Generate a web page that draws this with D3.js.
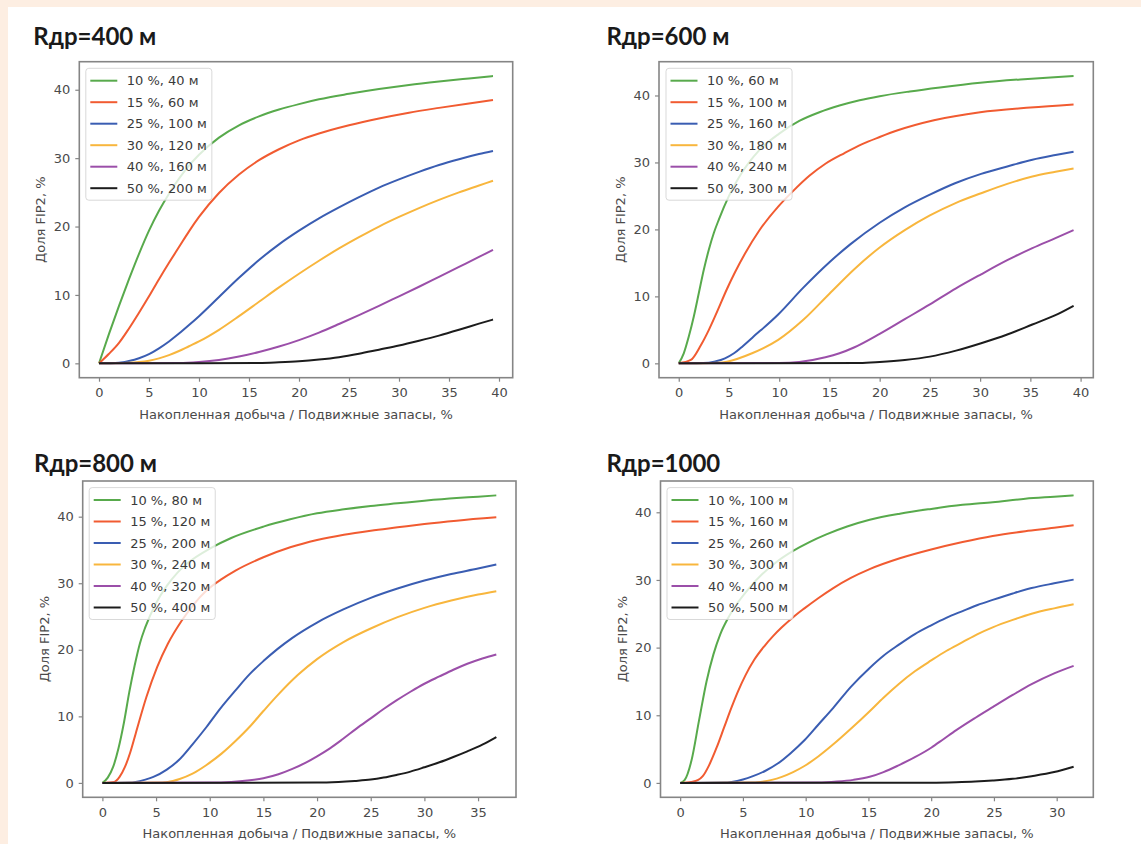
<!DOCTYPE html>
<html>
<head>
<meta charset="utf-8">
<script src="https://cdn.jsdelivr.net/npm/d3@7"></script>
<style>
  html, body { margin: 0; padding: 0; background: #fdeee2; }
  svg { display: block; }
</style>
</head>
<body>
<svg id="chart" width="1141" height="844"></svg>
<script>
// ---------------- DATA ----------------
const panelTitles = ["Rдр=400 м", "Rдр=600 м", "Rдр=800 м", "Rдр=1000"];
const xAxisLabel = "Накопленная добыча / Подвижные запасы, %";
const yAxisLabel = "Доля FIP2, %";

const legend400 = ["10 %, 40 м", "15 %, 60 м", "25 %, 100 м", "30 %, 120 м", "40 %, 160 м", "50 %, 200 м"];
const legend600 = ["10 %, 60 м", "15 %, 100 м", "25 %, 160 м", "30 %, 180 м", "40 %, 240 м", "50 %, 300 м"];
const legend800 = ["10 %, 80 м", "15 %, 120 м", "25 %, 200 м", "30 %, 240 м", "40 %, 320 м", "50 %, 400 м"];
const legend1000 = ["10 %, 100 м", "15 %, 160 м", "25 %, 260 м", "30 %, 300 м", "40 %, 400 м", "50 %, 500 м"];

const xTicks400 = [0, 5, 10, 15, 20, 25, 30, 35, 40];
const xTicks600 = [0, 5, 10, 15, 20, 25, 30, 35, 40];
const xTicks800 = [0, 5, 10, 15, 20, 25, 30, 35];
const xTicks1000 = [0, 5, 10, 15, 20, 25, 30];
const yTicks = [0, 10, 20, 30, 40];

// Rдр=400 м
const r400_s1 = [[0,0],[1,4.3],[2,8.4],[3,12.3],[4,16],[5,19.4],[6,22.3],[7,24.8],[8,27],[9,28.9],[10,30.5],[12,33],[14,34.8],[16,36.1],[18,37.1],[20,37.9],[22,38.6],[25,39.4],[28,40.1],[31,40.7],[34,41.2],[37,41.65],[39.4,42]];
const r400_s2 = [[0,0],[1,1.4],[2,3],[3,5.1],[4,7.4],[5,9.8],[6,12.3],[7,14.7],[8,17],[9,19.3],[10,21.4],[12,24.9],[14,27.6],[16,29.7],[18,31.3],[20,32.6],[22,33.6],[25,34.8],[28,35.8],[31,36.65],[34,37.35],[37,38],[39.4,38.5]];
const r400_s3 = [[0,0],[2,0.1],[3,0.35],[4,0.75],[5,1.35],[6,2.2],[7,3.2],[8,4.35],[9,5.6],[10,6.9],[12,9.7],[14,12.5],[16,15.1],[18,17.4],[20,19.4],[22,21.2],[24,22.8],[26,24.3],[28,25.7],[30,26.9],[32,28],[34,29],[36,29.85],[38,30.6],[39.4,31.05]];
const r400_s4 = [[0,0],[3,0.08],[4,0.18],[5,0.38],[6,0.72],[7,1.2],[8,1.8],[9,2.5],[10,3.2],[12,4.9],[14,6.9],[16,9],[18,11.1],[20,13.1],[22,15],[24,16.8],[26,18.45],[28,20],[30,21.4],[32,22.7],[34,23.9],[36,25],[38,26],[39.4,26.7]];
const r400_s5 = [[0,0],[8,0.05],[10,0.2],[12,0.5],[14,1],[16,1.65],[18,2.45],[20,3.4],[22,4.5],[24,5.75],[26,7.05],[28,8.4],[30,9.8],[32,11.2],[34,12.65],[36,14.1],[38,15.55],[39.4,16.6]];
const r400_s6 = [[0,0],[16,0.05],[18,0.15],[20,0.3],[22,0.55],[24,0.9],[26,1.4],[28,2],[30,2.6],[32,3.3],[34,4.05],[36,4.9],[38,5.8],[39.4,6.4]];

// Rдр=600 м
const r600_s1 = [[0,0],[0.5,1.5],[1,4],[1.5,7],[2,10.5],[2.5,14],[3,17],[3.5,19.5],[4,21.5],[5,25],[6,27.8],[7,30],[8,31.8],[10,34.3],[12,36.2],[14,37.5],[16,38.5],[18,39.3],[20,39.9],[23,40.6],[26,41.2],[30,41.9],[34,42.4],[37,42.7],[39.3,42.9]];
const r600_s2 = [[0,0],[1.2,0.5],[2.2,2.7],[3,5],[3.7,7.3],[4.8,11.1],[5.6,13.6],[6.6,16.4],[8,19.8],[9.9,23.4],[11.3,25.6],[13,28],[14.6,29.8],[16.5,31.4],[18.2,32.7],[20,33.8],[21.8,34.8],[25.4,36.3],[30,37.5],[35,38.2],[39.3,38.65]];
const r600_s3 = [[0,0],[3,0.1],[3.7,0.3],[4.6,0.75],[5.5,1.5],[6.4,2.6],[7.3,3.8],[9.9,7.3],[12.4,11.3],[15,15.1],[17.1,17.8],[20,21],[22.5,23.3],[25,25.2],[27.5,26.9],[30.1,28.3],[32.7,29.4],[35.2,30.4],[37.5,31.1],[39.3,31.6]];
const r600_s4 = [[0,0],[4,0.1],[4.8,0.25],[7.3,1.5],[9.9,3.5],[12.4,6.5],[15,10.4],[17.5,14.1],[20,17.3],[22.5,19.9],[25,22.1],[27.5,23.9],[30.1,25.4],[32.7,26.8],[35.2,27.9],[37.5,28.6],[39.3,29.1]];
const r600_s5 = [[0,0],[10,0.05],[12,0.2],[14.6,0.9],[16,1.5],[17.5,2.4],[20,4.4],[22.5,6.6],[25,8.8],[27.6,11.2],[30.1,13.3],[32.7,15.4],[35.2,17.2],[37.5,18.7],[39.3,19.9]];
const r600_s6 = [[0,0],[18,0.05],[20,0.2],[22.5,0.5],[25,1],[27.6,1.9],[30.1,3],[32.7,4.3],[35.2,5.8],[37.5,7.2],[39.3,8.6]];

// Rдр=800 м
const r800_s1 = [[0,0],[0.5,0.8],[1,2.4],[1.5,5.2],[2,9],[2.5,13.6],[3,17.6],[3.5,21],[4,23.4],[5,27],[6,29.6],[7,31.6],[8,33.1],[10,35.2],[12,36.8],[15,38.5],[17.5,39.6],[20,40.5],[22.5,41.1],[25,41.6],[27.5,42],[30,42.4],[33,42.8],[35,43],[36.7,43.2]];
const r800_s2 = [[0,0],[1.1,0.15],[1.6,0.9],[2.1,2.4],[2.6,4.6],[3.1,7.4],[4.1,12.9],[5.1,17.4],[6.1,20.9],[7.4,24.4],[8.5,26.8],[9.7,28.9],[11,30.5],[12.4,31.9],[15,33.9],[17.5,35.4],[20,36.5],[22.5,37.3],[25,37.9],[27.5,38.4],[30,38.9],[33,39.4],[36.7,39.9]];
const r800_s3 = [[0,0],[2.5,0.05],[3.1,0.15],[4,0.5],[4.75,0.9],[6,2],[7.1,3.4],[8.4,5.8],[9.7,8.4],[11,11.2],[12.4,13.9],[13.7,16.3],[15,18.3],[16.3,20.1],[17.7,21.8],[20,24.1],[22.5,26.1],[25,27.8],[27.5,29.2],[30,30.4],[32.5,31.4],[35,32.2],[36.7,32.8]];
const r800_s4 = [[0,0],[5,0.05],[6.1,0.15],[7.2,0.6],[8.4,1.4],[9.7,2.7],[11.1,4.4],[12.4,6.3],[13.7,8.4],[15,10.8],[16.4,13.3],[18.2,16.2],[20,18.6],[22.5,21.2],[25,23.2],[27.5,24.9],[30,26.3],[32.5,27.4],[35,28.3],[36.7,28.8]];
const r800_s5 = [[0,0],[10,0.05],[12,0.15],[13.5,0.35],[15,0.7],[16.4,1.3],[17.7,2.1],[19,3.1],[20,4],[21.2,5.2],[22.4,6.6],[23.7,8.2],[25,9.7],[26.2,11.1],[27.4,12.4],[28.7,13.7],[30,14.9],[31.4,16],[32.7,17],[34,17.9],[35.4,18.7],[36.7,19.3]];
const r800_s6 = [[0,0],[20,0.05],[22,0.15],[23.5,0.3],[25,0.5],[26.2,0.8],[27.4,1.2],[28.7,1.7],[30,2.35],[31.4,3.1],[32.7,3.9],[34,4.75],[35.4,5.75],[36.7,6.9]];

// Rдр=1000
const r1000_s1 = [[0,0],[0.35,0.4],[0.9,3.3],[1.5,9.2],[2.1,15],[2.65,19],[3.2,22],[3.8,24.3],[4.5,26.4],[5.5,28.8],[6.5,30.8],[7.7,32.7],[9,34.3],[10.3,35.6],[11.6,36.7],[13.3,37.9],[15.1,38.9],[17.5,39.8],[20,40.5],[22.5,41.1],[24.9,41.5],[27.5,42],[29.8,42.3],[31.35,42.5]];
const r1000_s2 = [[0,0],[0.9,0.15],[1.4,0.4],[1.8,1],[2.3,2.6],[2.9,5.2],[3.5,8.2],[4.1,11.2],[4.6,13.5],[5.2,15.9],[5.9,18.2],[6.7,20.2],[7.4,21.7],[8.1,23],[9,24.5],[9.9,25.8],[11,27.3],[12.2,28.8],[13.6,30.3],[15.1,31.6],[17.5,33.2],[20,34.5],[22.5,35.6],[24.9,36.5],[27.5,37.2],[29.8,37.7],[31.35,38.1]];
const r1000_s3 = [[0,0],[3.5,0.05],[4.1,0.15],[5,0.5],[5.8,1],[6.8,1.8],[7.8,2.9],[8.8,4.4],[9.9,6.3],[11,8.6],[12.2,11.1],[13.6,14.2],[15.1,17],[16.2,18.8],[17.4,20.4],[18.7,22],[20,23.3],[21.2,24.4],[22.5,25.4],[23.7,26.3],[24.9,27.05],[26.5,28],[28,28.8],[29.8,29.5],[31.35,30.05]];
const r1000_s4 = [[0,0],[5.5,0.05],[6.4,0.15],[7.3,0.45],[8.1,0.9],[9,1.6],[9.9,2.5],[11,3.9],[12.2,5.7],[13.6,8],[15.1,10.6],[16.2,12.6],[17.4,14.6],[18.7,16.5],[20,18.1],[21.2,19.5],[22.5,20.8],[23.7,22],[24.9,23],[26.5,24.1],[28,25],[29.8,25.8],[31.35,26.4]];
const r1000_s5 = [[0,0],[11,0.05],[12.5,0.2],[13.8,0.45],[15.1,0.9],[16.2,1.6],[17.4,2.6],[18.7,3.8],[20,5.2],[21,6.5],[22,7.8],[23.5,9.6],[24.9,11.2],[26.5,13],[28,14.6],[29.8,16.2],[31.35,17.3]];
const r1000_s6 = [[0,0],[20,0.03],[22,0.1],[23.5,0.2],[24.9,0.35],[26.5,0.6],[28,1],[29.8,1.6],[31.35,2.4]];

const seriesColors = ["#58aa4c", "#f15b31", "#3a5db2", "#f8b63d", "#9b4fa9", "#1c1c1c"];

// ---------------- LAYOUT ----------------
const panels = [
  { title: panelTitles[0], legend: legend400, xTicks: xTicks400, series: [r400_s1, r400_s2, r400_s3, r400_s4, r400_s5, r400_s6],
    box: { left: 79.3, right: 512.7, top: 61.7, bottom: 377.7 }, tx: 33.3, ty: 45, legDx: 6.5 },
  { title: panelTitles[1], legend: legend600, xTicks: xTicks600, series: [r600_s1, r600_s2, r600_s3, r600_s4, r600_s5, r600_s6],
    box: { left: 659, right: 1093.3, top: 61.7, bottom: 377.7 }, tx: 606.4, ty: 45, legDx: 7 },
  { title: panelTitles[2], legend: legend800, xTicks: xTicks800, series: [r800_s1, r800_s2, r800_s3, r800_s4, r800_s5, r800_s6],
    box: { left: 82.7, right: 516, top: 481, bottom: 797.3 }, tx: 34, ty: 471.7, legDx: 6.5 },
  { title: panelTitles[3], legend: legend1000, xTicks: xTicks1000, series: [r1000_s1, r1000_s2, r1000_s3, r1000_s4, r1000_s5, r1000_s6],
    box: { left: 660.5, right: 1093.3, top: 481, bottom: 797.3 }, tx: 606.4, ty: 471.7, legDx: 6.5 }
];

const svg = d3.select("#chart");
svg.append("rect").attr("x", 8).attr("y", 7).attr("width", 1141 - 8).attr("height", 844 - 7).attr("fill", "#ffffff");

const tickFont = "'DejaVu Sans', sans-serif";
const spineColor = "#858585";
const textColor = "#4a4a4a";
const fs = 13;

panels.forEach((p) => {
  const b = p.box;
  const xmax = d3.max(p.series, s => d3.max(s, d => d[0]));
  const ymax = d3.max(p.series, s => d3.max(s, d => d[1]));
  const x = d3.scaleLinear().domain([-0.05 * xmax, 1.05 * xmax]).range([b.left, b.right]);
  const y = d3.scaleLinear().domain([-0.05 * ymax, 1.05 * ymax]).range([b.bottom, b.top]);

  const g = svg.append("g");

  // title
  g.append("text").attr("x", p.tx).attr("y", p.ty)
    .attr("font-family", "Lato, 'Open Sans', sans-serif").attr("font-weight", 700)
    .attr("font-size", 24).attr("fill", "#1a1a1a").text(p.title);

  // lines
  const line = d3.line().x(d => x(d[0])).y(d => y(d[1])).curve(d3.curveMonotoneX);
  p.series.forEach((s, i) => {
    g.append("path").datum(s).attr("d", line)
      .attr("fill", "none").attr("stroke", seriesColors[i]).attr("stroke-width", 2)
      .attr("stroke-linejoin", "round").attr("stroke-linecap", "butt");
  });

  // axes
  const xAxis = d3.axisBottom(x).tickValues(p.xTicks).tickSize(4).tickPadding(6).tickFormat(d3.format("d"));
  const yAxis = d3.axisLeft(y).tickValues(yTicks).tickSize(4).tickPadding(5).tickFormat(d3.format("d"));
  const gx = g.append("g").attr("transform", `translate(0,${b.bottom})`).call(xAxis);
  const gy = g.append("g").attr("transform", `translate(${b.left},0)`).call(yAxis);
  [gx, gy].forEach(a => {
    a.select(".domain").remove();
    a.selectAll(".tick line").attr("stroke", spineColor).attr("stroke-width", 1.2);
    a.selectAll(".tick text").attr("font-family", tickFont).attr("font-size", fs).attr("fill", textColor);
  });

  // frame (spines)
  g.append("rect").attr("x", b.left).attr("y", b.top).attr("width", b.right - b.left).attr("height", b.bottom - b.top)
    .attr("fill", "none").attr("stroke", spineColor).attr("stroke-width", 1.6);

  // axis labels
  g.append("text").attr("x", (b.left + b.right) / 2).attr("y", b.bottom + 41)
    .attr("text-anchor", "middle").attr("font-family", tickFont).attr("font-size", fs)
    .attr("fill", textColor).text(xAxisLabel);
  g.append("text").attr("transform", `translate(${b.left - 34},${(b.top + b.bottom) / 2}) rotate(-90)`)
    .attr("text-anchor", "middle").attr("font-family", tickFont).attr("font-size", fs)
    .attr("fill", textColor).text(yAxisLabel);

  // legend
  const lg = g.append("g").attr("transform", `translate(${b.left + p.legDx},${b.top + 6.6})`);
  const bg = lg.append("rect");
  const rowH = 21.5;
  let maxW = 0;
  p.legend.forEach((name, i) => {
    const cy = 12.4 + i * rowH;
    lg.append("line").attr("x1", 4.5).attr("x2", 31.5).attr("y1", cy).attr("y2", cy)
      .attr("stroke", seriesColors[i]).attr("stroke-width", 2);
    const t = lg.append("text").attr("x", 41).attr("y", cy).attr("dy", "0.35em")
      .attr("font-family", tickFont).attr("font-size", fs).attr("fill", "#3a3a3a").text(name);
    maxW = Math.max(maxW, t.node().getComputedTextLength());
  });
  bg.attr("x", 0).attr("y", 0).attr("width", 41 + maxW + 5).attr("height", 12.4 + 5 * rowH + 12)
    .attr("rx", 3).attr("fill", "#ffffff").attr("fill-opacity", 0.8)
    .attr("stroke", "#d0d0d0").attr("stroke-opacity", 0.8).attr("stroke-width", 1);
});
</script>
</body>
</html>
